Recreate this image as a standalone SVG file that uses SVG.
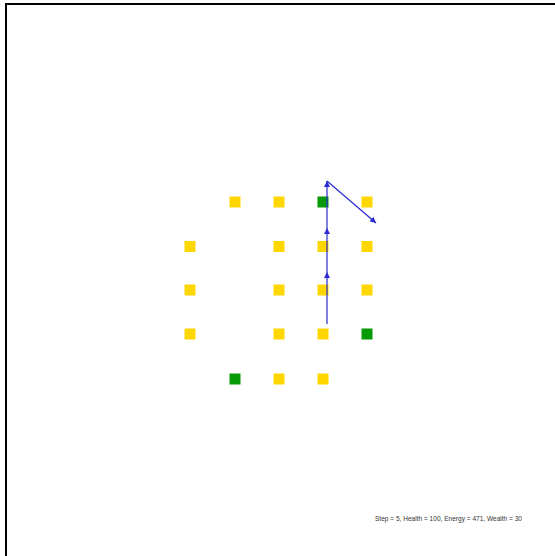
<svg xmlns="http://www.w3.org/2000/svg" width="555" height="556" viewBox="0 0 555 556">
<defs>
<style>
.y{fill:#ffd700}
.g{fill:#079a07}
.p{stroke:#2a2ad0;stroke-width:1.2;fill:none}
.lbl{font-family:"Liberation Sans",Arial,sans-serif;font-size:6.5px;fill:#333}
</style>
<marker id="ah" viewBox="0 0 10 10" refX="10" refY="5" markerWidth="7" markerHeight="6" markerUnits="userSpaceOnUse" orient="auto">
<path d="M0,0 L10,5 L0,10 Z" fill="#2a2ad0"/>
</marker>
</defs>
<rect width="555" height="556" fill="#fff"/>
<path d="M6,556 V4 H555" stroke="#000" stroke-width="2" fill="none"/>
<g id="cells">
<rect class="y" x="229.5" y="196.5" width="11" height="11"/>
<rect class="y" x="273.5" y="196.5" width="11" height="11"/>
<rect class="g" x="317.5" y="196.5" width="11" height="11"/>
<rect class="y" x="361.5" y="196.5" width="11" height="11"/>
<rect class="y" x="184.5" y="241" width="11" height="11"/>
<rect class="y" x="273.5" y="241" width="11" height="11"/>
<rect class="y" x="317.5" y="241" width="11" height="11"/>
<rect class="y" x="361.5" y="241" width="11" height="11"/>
<rect class="y" x="184.5" y="284.5" width="11" height="11"/>
<rect class="y" x="273.5" y="284.5" width="11" height="11"/>
<rect class="y" x="317.5" y="284.5" width="11" height="11"/>
<rect class="y" x="361.5" y="284.5" width="11" height="11"/>
<rect class="y" x="184.5" y="328.5" width="11" height="11"/>
<rect class="y" x="273.5" y="328.5" width="11" height="11"/>
<rect class="y" x="317.5" y="328.5" width="11" height="11"/>
<rect class="g" x="361.5" y="328.5" width="11" height="11"/>
<rect class="g" x="229.5" y="373.5" width="11" height="11"/>
<rect class="y" x="273.5" y="373.5" width="11" height="11"/>
<rect class="y" x="317.5" y="373.5" width="11" height="11"/>
</g>
<g id="connectors">
<line class="p" x1="327" y1="324" x2="327" y2="272" marker-end="url(#ah)"/>
<line class="p" x1="327" y1="272" x2="327" y2="228" marker-end="url(#ah)"/>
<line class="p" x1="327" y1="228" x2="327" y2="181" marker-end="url(#ah)"/>
<line class="p" x1="327" y1="181" x2="376" y2="223" marker-end="url(#ah)"/>
</g>
<text class="lbl" x="375" y="521" textLength="147" lengthAdjust="spacingAndGlyphs">Step = 5, Health = 100, Energy = 471, Wealth = 30</text>
</svg>
